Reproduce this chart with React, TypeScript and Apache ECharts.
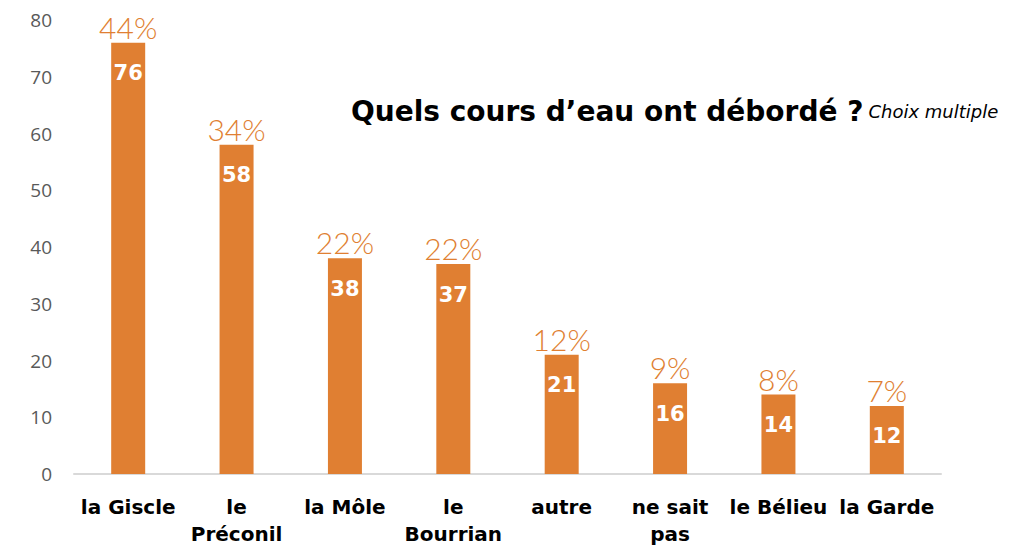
import React, { useEffect, useRef } from "react";
import * as echarts from "echarts";

const categories = ["la Giscle", "le\nPréconil", "la Môle", "le\nBourrian", "autre", "ne sait\npas", "le Bélieu", "la Garde"];
const counts = [76, 58, 38, 37, 21, 16, 14, 12];
const percents = ["44%", "34%", "22%", "22%", "12%", "9%", "8%", "7%"];
const yTicks = [0, 10, 20, 30, 40, 50, 60, 70, 80];

const ORANGE = "#E07F32";

export default function App() {
  const ref = useRef<HTMLDivElement>(null);
  useEffect(() => {
    if (!ref.current) return;
    const chart = echarts.init(ref.current, undefined, { renderer: "svg" });
    chart.setOption({
      animation: false,
      title: {
        text: "{t|Quels cours d’eau ont débordé ?} {s|Choix multiple}",
        left: 346,
        top: 92,
        textStyle: {
          fontWeight: "normal",
          rich: {
            t: { fontFamily: "DejaVu Sans", fontWeight: "bold", fontSize: 28, color: "#000" },
            s: { fontFamily: "DejaVu Sans", fontStyle: "italic", fontWeight: "normal", fontSize: 18, color: "#000" },
          },
        },
      },
      grid: { left: 74, right: 76, top: 20, bottom: 72, containLabel: false, outerBoundsMode: "none" },
      xAxis: {
        type: "category",
        data: categories,
        axisLine: { lineStyle: { color: "#d9d9d9", width: 2 } },
        axisTick: { show: false },
        axisLabel: {
          interval: 0,
          margin: 19,
          fontFamily: "DejaVu Sans",
          fontWeight: "bold",
          fontSize: 20,
          color: "#000",
          lineHeight: 27,
        },
      },
      yAxis: {
        type: "value",
        min: yTicks[0],
        max: yTicks[yTicks.length - 1],
        interval: 10,
        splitLine: { show: false },
        axisLine: { show: false },
        axisTick: { show: false },
        axisLabel: { fontFamily: "Open Sans", fontSize: 19, color: "#595959", margin: 22 },
      },
      series: [
        {
          type: "bar",
          data: counts,
          barWidth: 34,
          itemStyle: { color: ORANGE },
          label: {
            show: true,
            position: "top",
            distance: 1,
            formatter: (p: any) => percents[p.dataIndex],
            fontFamily: "Lato",
            fontWeight: 300,
            fontSize: 30,
            color: ORANGE,
          },
        },
        {
          type: "bar",
          data: counts,
          barWidth: 34,
          barGap: "-100%",
          itemStyle: { color: "transparent" },
          silent: true,
          label: {
            show: true,
            position: "insideTop",
            distance: 20,
            fontFamily: "DejaVu Sans",
            fontWeight: "bold",
            fontSize: 21,
            color: "#fff",
          },
        },
      ],
    });
    return () => chart.dispose();
  }, []);
  return <div ref={ref} style={{ width: 1017, height: 546, position: "absolute", left: 0, top: 0 }} />;
}
